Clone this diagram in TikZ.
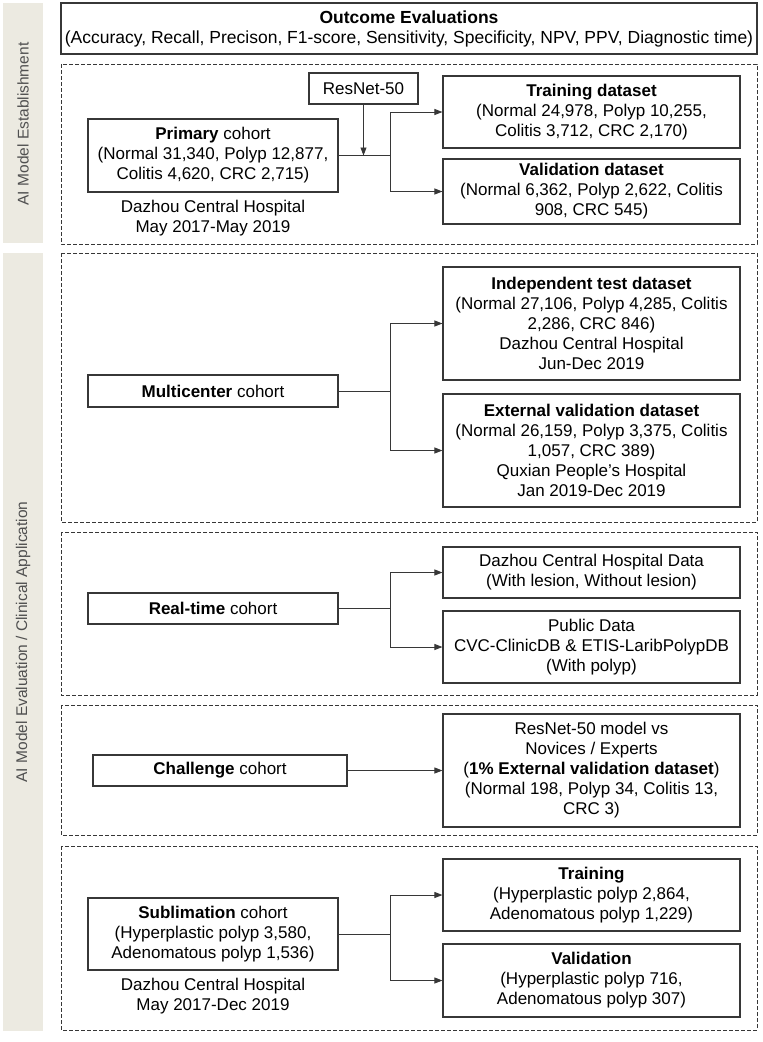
\documentclass[tikz,border=0pt]{standalone}
\usepackage{fontspec}
\setmainfont{Liberation Sans}
\usetikzlibrary{arrows.meta}
\definecolor{sidegray}{RGB}{236,234,225}
\definecolor{sidetext}{RGB}{80,80,80}
\definecolor{linegray}{RGB}{55,55,55}

\begin{document}
\begin{tikzpicture}[x=1pt,y=-1pt,
  font=\fontsize{17}{20}\selectfont,
  box/.style={draw=linegray,line width=1.1pt,align=center,inner sep=0pt},
  leftbox/.style={box,minimum width=250pt},
  rightbox/.style={box,minimum width=297pt},
  frame/.style={draw=linegray,line width=0.9pt,dash pattern=on 4pt off 2pt},
  sidelabel/.style={rotate=90,text=sidetext,font=\fontsize{15.5}{18}\selectfont},
  link/.style={draw=linegray,line width=0.9pt},
  arr/.style={link,-{Triangle[length=8pt,width=6pt]}}]
\useasboundingbox (0,0) rectangle (763,1042);
%----side bars----------------------------------
\fill[sidegray] (3,3) rectangle (43,243);
\fill[sidegray] (3,253) rectangle (43,1031);
\node[sidelabel] (sideA) at (23,124) {AI Model Establishment};
\node[sidelabel] (sideB) at (23,642) {AI Model Evaluation / Clinical Application};
%----outcome------------------------------------
\node[box,minimum width=696pt,minimum height=51pt,font=\fontsize{17.5}{20}\selectfont] (outcome) at (409,28.5)
  {\textbf{Outcome Evaluations}\\(Accuracy, Recall, Precison, F1-score, Sensitivity, Specificity, NPV, PPV, Diagnostic time)};
%----dashed frames------------------------------
\draw[frame] (61,64) rectangle (757,244);
\draw[frame] (61,253) rectangle (757,522);
\draw[frame] (61,532) rectangle (757,695);
\draw[frame] (61,705) rectangle (757,835);
\draw[frame] (61,846) rectangle (757,1030);
%----primary cohort-----------------------------
\node[box,minimum width=109pt,minimum height=31pt] (resnet) at (363.5,88.5) {ResNet-50};
\node[leftbox,minimum height=73pt] (primary) at (213,155.5)
  {\textbf{Primary} cohort\\(Normal 31,340, Polyp 12,877,\\Colitis 4,620, CRC 2,715)};
\node[align=center] (primaryloc) at (213,218) {Dazhou Central Hospital\\May 2017-May 2019};
\node[rightbox,minimum height=72pt] (train) at (591.5,112)
  {\textbf{Training dataset}\\(Normal 24,978, Polyp 10,255,\\Colitis 3,712, CRC 2,170)};
\node[rightbox,minimum height=65pt] (valid) at (591.5,191.5)
  {\textbf{Validation dataset}\\(Normal 6,362, Polyp 2,622, Colitis\\908, CRC 545)};
\coordinate (brA) at (390,155.5);
\draw[link] (primary.east) -- (brA);
\draw[arr] (resnet.south) -- (resnet.south |- brA);
\draw[arr] (brA) |- (train.west);
\draw[arr] (brA) |- (valid.west);
%----multicenter cohort-------------------------
\node[leftbox,minimum height=32pt] (multi) at (213,391) {\textbf{Multicenter} cohort};
\node[rightbox,minimum height=113pt] (indep) at (591.5,323.5)
  {\textbf{Independent test dataset}\\(Normal 27,106, Polyp 4,285, Colitis\\2,286, CRC 846)\\Dazhou Central Hospital\\Jun-Dec 2019};
\node[rightbox,minimum height=113pt] (extval) at (591.5,450.5)
  {\textbf{External validation dataset}\\(Normal 26,159, Polyp 3,375, Colitis\\1,057, CRC 389)\\Quxian People’s Hospital\\Jan 2019-Dec 2019};
\coordinate (brB) at (390,391);
\draw[link] (multi.east) -- (brB);
\draw[arr] (brB) |- (indep.west);
\draw[arr] (brB) |- (extval.west);
%----real-time cohort---------------------------
\node[leftbox,minimum height=31pt] (realtime) at (213,608.5) {\textbf{Real-time} cohort};
\node[rightbox,minimum height=51pt] (dzdata) at (591.5,572.5)
  {Dazhou Central Hospital Data\\(With lesion, Without lesion)};
\node[rightbox,minimum height=72pt] (pubdata) at (591.5,647)
  {Public Data\\CVC-ClinicDB \& ETIS-LaribPolypDB\\(With polyp)};
\coordinate (brC) at (390,608.5);
\draw[link] (realtime.east) -- (brC);
\draw[arr] (brC) |- (dzdata.west);
\draw[arr] (brC) |- (pubdata.west);
%----challenge cohort---------------------------
\node[box,minimum width=254pt,minimum height=31pt] (challenge) at (220,770.5) {\textbf{Challenge} cohort};
\node[rightbox,minimum height=113pt] (versus) at (591.5,770.5)
  {ResNet-50 model vs\\Novices / Experts\\(\textbf{1\% External validation dataset})\\(Normal 198, Polyp 34, Colitis 13,\\CRC 3)};
\draw[arr] (challenge.east) -- (versus.west);
%----sublimation cohort-------------------------
\node[leftbox,minimum height=72pt] (sublim) at (213,934)
  {\textbf{Sublimation} cohort\\(Hyperplastic polyp 3,580,\\Adenomatous polyp 1,536)};
\node[align=center] (sublimloc) at (213,996) {Dazhou Central Hospital\\May 2017-Dec 2019};
\node[rightbox,minimum height=72pt] (subtrain) at (591.5,895)
  {\textbf{Training}\\(Hyperplastic polyp 2,864,\\Adenomatous polyp 1,229)};
\node[rightbox,minimum height=73pt] (subvalid) at (591.5,980.5)
  {\textbf{Validation}\\(Hyperplastic polyp 716,\\Adenomatous polyp 307)};
\coordinate (brD) at (390,934);
\draw[link] (sublim.east) -- (brD);
\draw[arr] (brD) |- (subtrain.west);
\draw[arr] (brD) |- (subvalid.west);
\end{tikzpicture}
\end{document}
